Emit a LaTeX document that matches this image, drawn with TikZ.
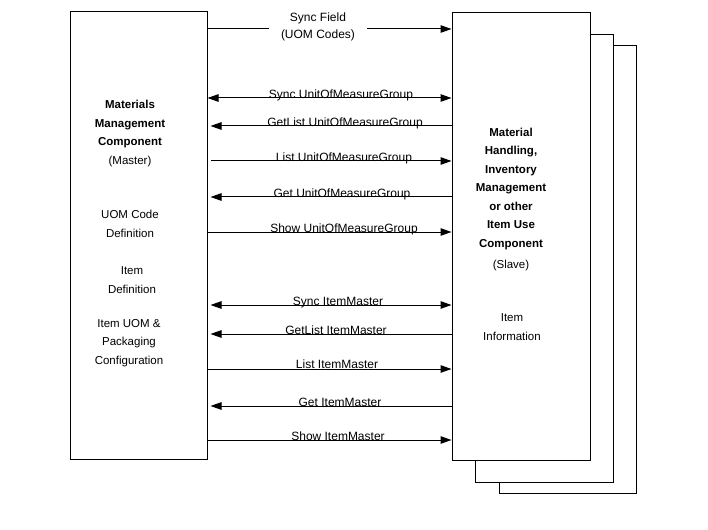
\documentclass[tikz,border=0pt]{standalone}
\usepackage{fontspec}
\setmainfont{Liberation Sans}
\usepackage{tikz}
\usetikzlibrary{arrows.meta,positioning}

\begin{document}
\begin{tikzpicture}[x=1pt, y=-1pt,
  component/.style={draw=black, line width=1pt, fill=white, inner sep=0pt},
  boxtext/.style={align=center, font=\fontsize{11.5}{18.5}\selectfont},
  msg/.style={inner sep=0pt, anchor=base, font=\fontsize{12}{12}\selectfont},
  flow/.style={-{Triangle[length=11pt, width=7.5pt]}, line width=1pt},
  sync/.style={{Triangle[length=11pt, width=7.5pt]}-{Triangle[length=11pt, width=7.5pt]}, line width=1pt}
]
\useasboundingbox (0,0) rectangle (708,529);

\node[component, minimum width=137pt, minimum height=447pt] (master) at (138.5,235.5) {};
\node[component, minimum width=137pt, minimum height=447pt] (slavec) at (567.5,269.5) {};
\node[component, minimum width=138pt, minimum height=447pt] (slaveb) at (544,258.5) {};
\node[component, minimum width=138pt, minimum height=447pt] (slave) at (521,236.5) {};

\node[boxtext, font=\fontsize{11.5}{18.5}\selectfont\bfseries] (mastername) at (130,124.5) {Materials\\Management\\Component};
\node[boxtext, below=1pt of mastername] (masterrole) {(Master)};
\node[boxtext] (uomdef) at (130,224) {UOM Code\\Definition};
\node[boxtext] (itemdef) at (132,280) {Item\\Definition};
\node[boxtext] (itemcfg) at (129,343) {Item UOM \&\\Packaging\\Configuration};

\node[boxtext, font=\fontsize{11.5}{18.5}\selectfont\bfseries] (slavename) at (511,189) {Material\\Handling,\\Inventory\\Management\\or other\\Item Use\\Component};
\node[boxtext, below=3pt of slavename] (slaverole) {(Slave)};
\node[boxtext] (iteminfo) at (512,327) {Item\\Information};

\draw[flow] (master.east |- 0,29) -- (slave.west |- 0,29);
\node[msg, anchor=center, inner sep=1pt, fill=white, inner xsep=12pt, align=center, font=\fontsize{12}{17}\selectfont] (syncfield) at (318,27) {Sync Field\\(UOM Codes)};

\draw[sync] (master.east |- 0,98) -- (slave.west |- 0,98);
\node[msg] (syncuom) at (341,98.5) {Sync UnitOfMeasureGroup};
\draw[flow] (slave.west |- 0,126) -- ([xshift=3pt]master.east |- 0,126);
\node[msg] (getlistuom) at (345,126.5) {GetList UnitOfMeasureGroup};
\draw[flow] ([xshift=3pt]master.east |- 0,161) -- (slave.west |- 0,161);
\node[msg] (listuom) at (344,161.5) {List UnitOfMeasureGroup};
\draw[flow] (slave.west |- 0,197) -- ([xshift=3pt]master.east |- 0,197);
\node[msg] (getuom) at (342,197) {Get UnitOfMeasureGroup};
\draw[flow] (master.east |- 0,232) -- (slave.west |- 0,232);
\node[msg] (showuom) at (344,232.5) {Show UnitOfMeasureGroup};

\draw[sync] ([xshift=3pt]master.east |- 0,305) -- (slave.west |- 0,305);
\node[msg] (syncitem) at (338,305.5) {Sync ItemMaster};
\draw[flow] (slave.west |- 0,334) -- ([xshift=3pt]master.east |- 0,334);
\node[msg] (getlistitem) at (336,334) {GetList ItemMaster};
\draw[flow] (master.east |- 0,369) -- (slave.west |- 0,369);
\node[msg] (listitem) at (337,368) {List ItemMaster};
\draw[flow] (slave.west |- 0,406) -- ([xshift=3pt]master.east |- 0,406);
\node[msg] (getitem) at (340,406) {Get ItemMaster};
\draw[flow] (master.east |- 0,440) -- (slave.west |- 0,440);
\node[msg] (showitem) at (338,440.5) {Show ItemMaster};
\end{tikzpicture}
\end{document}
